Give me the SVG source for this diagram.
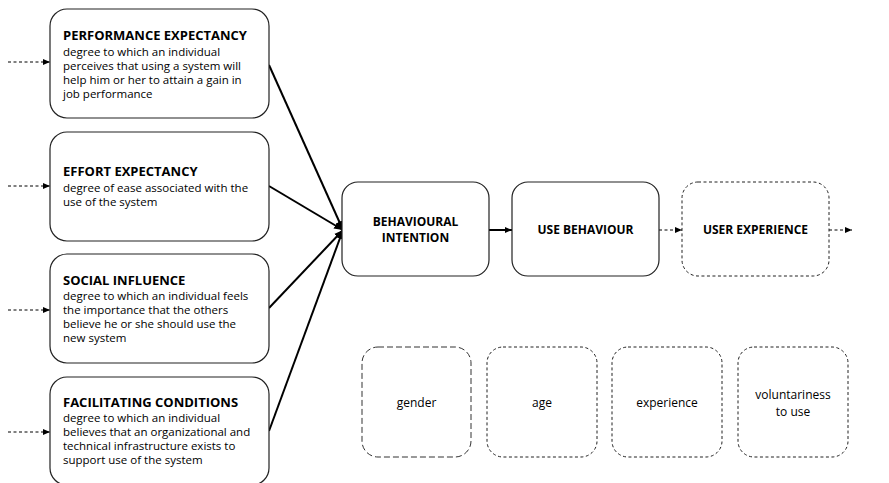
<svg xmlns="http://www.w3.org/2000/svg" width="889" height="483" viewBox="0 0 889 483">
  <defs>
    <marker id="arrow" markerWidth="8" markerHeight="8" refX="7" refY="4" orient="auto" markerUnits="userSpaceOnUse">
      <path d="M0,1 L7,4 L0,7 z" fill="#000"/>
    </marker>
    <marker id="arrowBig" markerWidth="10" markerHeight="10" refX="9" refY="5" orient="auto" markerUnits="userSpaceOnUse">
      <path d="M0,1.5 L9,5 L0,8.5 z" fill="#000"/>
    </marker>
    <style>
      .box { fill: #fff; stroke: #222; stroke-width: 1.2; }
      .dbox { fill: #fff; stroke: #222; stroke-width: 1; stroke-dasharray: 3 2.5; }
      .gbox { fill: #fff; stroke: #333; stroke-width: 1; stroke-dasharray: 6 3; }
      .title { font-family: "Open Sans", "DejaVu Sans", sans-serif; font-weight: bold; font-size: 13px; fill: #000; }
      .mid { font-size: 12px; }
      .body { font-family: "Open Sans", "DejaVu Sans", sans-serif; font-size: 11.5px; fill: #000; }
      .small { font-size: 12px; }
      .ctr { text-anchor: middle; }
      .solid { stroke: #000; stroke-width: 2; fill: none; }
      .dash { stroke: #000; stroke-width: 1; fill: none; stroke-dasharray: 3 2.5; }
    </style>
  </defs>

  <g id="connectors">
    <line class="dash" x1="8" y1="62" x2="50" y2="62" marker-end="url(#arrow)"/>
    <line class="dash" x1="8" y1="186" x2="50" y2="186" marker-end="url(#arrow)"/>
    <line class="dash" x1="8" y1="310" x2="50" y2="310" marker-end="url(#arrow)"/>
    <line class="dash" x1="8" y1="432" x2="50" y2="432" marker-end="url(#arrow)"/>

    <line class="solid" x1="269" y1="65" x2="343" y2="230" marker-end="url(#arrowBig)"/>
    <line class="solid" x1="269" y1="186" x2="343" y2="230" marker-end="url(#arrowBig)"/>
    <line class="solid" x1="269" y1="308" x2="343" y2="230" marker-end="url(#arrowBig)"/>
    <line class="solid" x1="269" y1="431" x2="343" y2="230" marker-end="url(#arrowBig)"/>

    <line class="solid" x1="489" y1="230" x2="512" y2="230" marker-end="url(#arrow)"/>
    <line class="dash" x1="659" y1="230" x2="682" y2="230" marker-end="url(#arrow)"/>
    <line class="dash" x1="829" y1="230" x2="852" y2="230" marker-end="url(#arrow)"/>
  </g>

  <g id="performance-expectancy">
    <rect class="box" x="50" y="9" width="219" height="109" rx="17"/>
    <text class="title" x="63" y="40">PERFORMANCE EXPECTANCY</text>
    <text class="body" x="63" y="56">degree to which an individual</text>
    <text class="body" x="63" y="70">perceives that using a system will</text>
    <text class="body" x="63" y="84">help him or her to attain a gain in</text>
    <text class="body" x="63" y="98">job performance</text>
  </g>

  <g id="effort-expectancy">
    <rect class="box" x="50" y="132" width="219" height="109" rx="17"/>
    <text class="title" x="63" y="176">EFFORT EXPECTANCY</text>
    <text class="body" x="63" y="192">degree of ease associated with the</text>
    <text class="body" x="63" y="206">use of the system</text>
  </g>

  <g id="social-influence">
    <rect class="box" x="50" y="254" width="219" height="109" rx="17"/>
    <text class="title" x="63" y="285">SOCIAL INFLUENCE</text>
    <text class="body" x="63" y="300">degree to which an individual feels</text>
    <text class="body" x="63" y="314">the importance that the others</text>
    <text class="body" x="63" y="328">believe he or she should use the</text>
    <text class="body" x="63" y="342">new system</text>
  </g>

  <g id="facilitating-conditions">
    <rect class="box" x="50" y="377" width="219" height="108" rx="17"/>
    <text class="title" x="63" y="407">FACILITATING CONDITIONS</text>
    <text class="body" x="63" y="422">degree to which an individual</text>
    <text class="body" x="63" y="436">believes that an organizational and</text>
    <text class="body" x="63" y="450">technical infrastructure exists to</text>
    <text class="body" x="63" y="464">support use of the system</text>
  </g>

  <g id="behavioural-intention">
    <rect class="box" x="342" y="182" width="147" height="94" rx="16"/>
    <text class="title mid ctr" x="415.5" y="226">BEHAVIOURAL</text>
    <text class="title mid ctr" x="415.5" y="242">INTENTION</text>
  </g>

  <g id="use-behaviour">
    <rect class="box" x="512" y="182" width="147" height="94" rx="16"/>
    <text class="title mid ctr" x="585.5" y="234">USE BEHAVIOUR</text>
  </g>

  <g id="user-experience">
    <rect class="dbox" x="682" y="182" width="147" height="94" rx="16"/>
    <text class="title mid ctr" x="755.5" y="234">USER EXPERIENCE</text>
  </g>

  <g id="gender">
    <rect class="gbox" x="362" y="347" width="109" height="110" rx="16"/>
    <text class="body small ctr" x="416.5" y="407">gender</text>
  </g>

  <g id="age">
    <rect class="dbox" x="487" y="347" width="110" height="110" rx="16"/>
    <text class="body small ctr" x="542" y="407">age</text>
  </g>

  <g id="experience">
    <rect class="dbox" x="612" y="347" width="110" height="110" rx="16"/>
    <text class="body small ctr" x="667" y="407">experience</text>
  </g>

  <g id="voluntariness">
    <rect class="dbox" x="738" y="347" width="110" height="110" rx="16"/>
    <text class="body small ctr" x="793" y="399">voluntariness</text>
    <text class="body small ctr" x="793" y="416">to use</text>
  </g>
</svg>
